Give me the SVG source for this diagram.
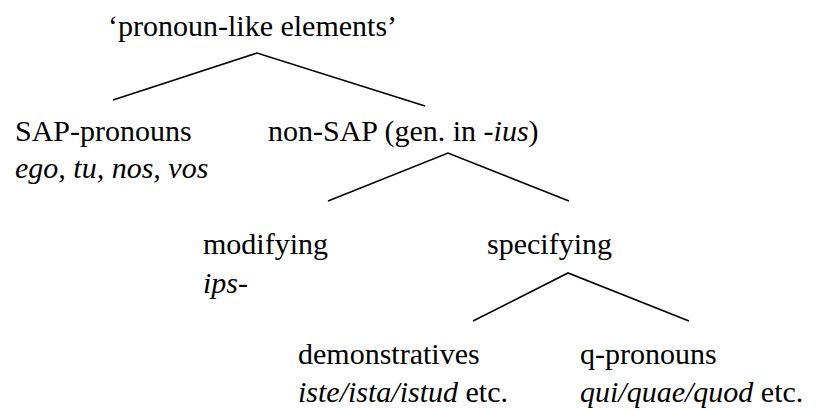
<svg xmlns="http://www.w3.org/2000/svg" width="820" height="410" viewBox="0 0 820 410">
  <rect width="820" height="410" fill="#fff"/>

  <!-- branching lines -->
  <g id="connectors" fill="none" stroke="#000" stroke-width="1.6">
    <polyline points="113,100 257,53 425,106"/>
    <polyline points="328,201 448,153 569,201"/>
    <polyline points="473,321 568,273 689,321"/>
  </g>

  <!-- tree nodes -->
  <g id="root">
    <text x="108" y="36" style="font-family: 'Liberation Serif', serif; font-size: 30px">&#8216;pronoun-like elements&#8217;</text>
  </g>
  <g id="sap">
    <text x="15" y="141" style="font-family: 'Liberation Serif', serif; font-size: 30px">SAP-pronouns</text>
    <text x="15" y="178" style="font-family: 'Liberation Serif', serif; font-size: 30px; font-style: italic">ego, tu, nos, vos</text>
  </g>
  <g id="non-sap">
    <text x="268" y="141" style="font-family: 'Liberation Serif', serif; font-size: 30px">non-SAP (gen. in -<tspan style="font-style: italic">ius</tspan>)</text>
  </g>
  <g id="modifying">
    <text x="203" y="254" style="font-family: 'Liberation Serif', serif; font-size: 30px">modifying</text>
    <text x="203" y="293" style="font-family: 'Liberation Serif', serif; font-size: 30px"><tspan style="font-style: italic">ips</tspan>-</text>
  </g>
  <g id="specifying">
    <text x="487" y="254" style="font-family: 'Liberation Serif', serif; font-size: 30px">specifying</text>
  </g>
  <g id="demonstratives">
    <text x="298" y="364" style="font-family: 'Liberation Serif', serif; font-size: 30px">demonstratives</text>
    <text x="298" y="402" style="font-family: 'Liberation Serif', serif; font-size: 30px"><tspan style="font-style: italic">iste/ista/istud</tspan> etc.</text>
  </g>
  <g id="q-pronouns">
    <text x="580" y="364" style="font-family: 'Liberation Serif', serif; font-size: 30px">q-pronouns</text>
    <text x="580" y="402" style="font-family: 'Liberation Serif', serif; font-size: 30px"><tspan style="font-style: italic">qui/quae/quod</tspan> etc.</text>
  </g>
</svg>
